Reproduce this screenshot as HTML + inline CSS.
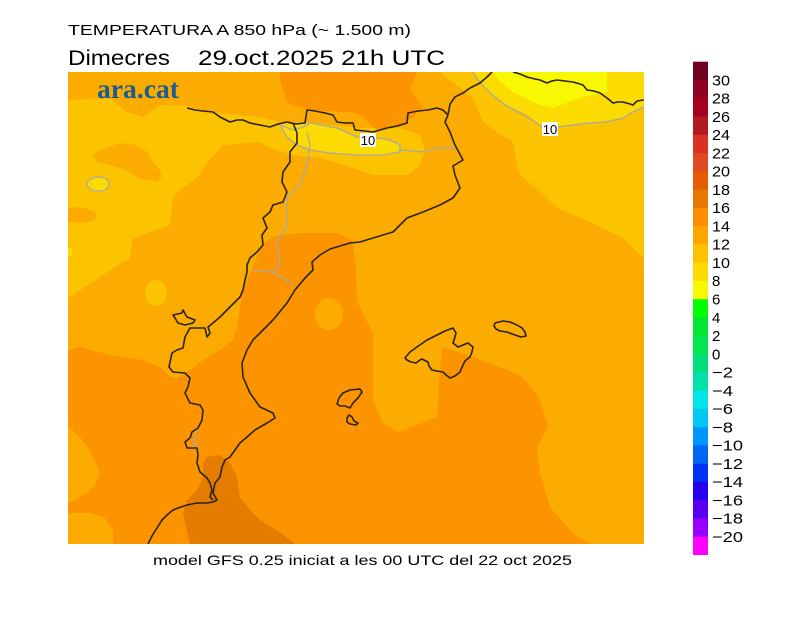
<!DOCTYPE html>
<html><head><meta charset="utf-8"><style>
html,body{margin:0;padding:0;background:#fff;}
svg{display:block;}
text{font-family:"Liberation Sans",sans-serif;}
</style></head><body>
<svg width="800" height="617" viewBox="0 0 800 617" xmlns="http://www.w3.org/2000/svg">
<rect width="800" height="617" fill="#fff"/>
<defs><clipPath id="mc"><rect x="68" y="72" width="576" height="472"/></clipPath></defs>
<g clip-path="url(#mc)">
<rect x="68" y="72" width="576" height="472" fill="#fcac00"/>
<!-- C10 upper-left -->
<polygon fill="#fcc400" points="68,100 110,98 127,112 143,117 160,105 187,106 210,112 240,115 265,118 280,122 320,124 360,128 400,128 420,135 425,150 420,165 407,175 373,175 345,165 320,158 293,155 270,148 260,142 223,145 205,165 200,175 180,190 173,198 170,225 150,232 133,238 130,258 110,270 93,282 68,298"/>
<polygon fill="#fcac00" points="93,155 105,148 120,143 137,145 147,152 153,162 160,170 162,177 157,182 140,179 125,170 110,165 97,162"/>
<polygon fill="#fcac00" points="68,208 80,207 92,210 98,216 92,222 78,223 68,222"/>
<ellipse cx="156" cy="293" rx="11" ry="13" fill="#fcc400"/>
<ellipse cx="98" cy="184" rx="11" ry="7" fill="#fcdc00" stroke="#aaa" stroke-width="1.2"/>
<polygon fill="#fcdc00" points="68,247 72,250 72,255 68,258"/>
<!-- C8 Pyrenees -->
<polygon fill="#fcdc00" points="280,125 293,125 303,123 320,124 337,128 357,136 377,138 390,140 400,145 400,152 383,155 357,155 330,153 310,150 297,145 287,137"/>
<!-- C14 top blob -->
<polygon fill="#fc9400" points="280,72 417,72 410,90 423,107 413,117 403,125 377,130 357,113 310,110 287,103 280,80"/>
<!-- right side -->
<polygon fill="#fcc400" points="440,72 644,72 644,258 637,252 623,238 590,222 557,208 540,192 520,175 517,165 513,142 497,132 483,122 473,98"/>
<polygon fill="#fcdc00" points="473,72 644,72 644,107 633,112 623,118 590,123 557,127 540,125 527,114 505,105 495,97 485,88"/>
<polygon fill="#f8f800" points="493,72 607,72 607,92 580,98 553,108 540,105 513,92 497,78"/>
<!-- C14 big -->
<polygon fill="#fc9400" points="68,350 80,347 110,355 143,360 160,367 172,378 180,377 190,370 203,360 220,350 233,340 238,323 240,307 242,290 247,280 252,270 262,245 275,236 300,233 337,233 352,240 356,265 357,300 365,318 373,333 373,400 383,423 397,432 417,425 437,417 440,367 443,347 473,357 507,370 523,377 540,400 548,427 537,447 540,473 550,507 573,533 590,544 68,544"/>
<ellipse cx="329" cy="314" rx="14" ry="16" fill="#fcac00"/>
<polygon fill="#fcac00" points="68,427 80,437 90,450 100,473 95,485 87,493 75,500 68,503"/>
<polygon fill="#fcac00" points="68,513 90,513 105,518 113,530 113,544 68,544"/>
<polygon fill="#e47c00" points="207,457 220,455 230,463 237,477 240,497 250,510 260,520 280,532 295,544 190,544 183,513 187,500 197,490 203,477 203,463"/>
<!-- gray lines -->
<g fill="none" stroke="#a8a8a8" stroke-width="1.3" stroke-linejoin="round">
<polyline points="473,72 478,80 485,88 495,97 505,105 520,113 535,122 543,128 557,127 573,125 590,123 607,122 623,118 633,112 644,107"/>
<polygon points="280,125 293,130 303,127 310,123 337,128 357,137 377,138 390,140 400,145 400,152 383,155 357,155 330,153 310,150 297,145 287,137"/>
<polyline points="400,150 423,152 437,148 457,148"/>
<polyline points="307,132 310,145 307,165 300,185 287,198 287,225 277,242 280,265 273,272 253,270"/>
<polyline points="273,272 283,278 293,285"/>
<polyline points="198,427 195,437 193,443 198,447"/>
</g>
<!-- coastlines -->
<g fill="none" stroke="#2a2418" stroke-width="1.6" stroke-linejoin="round">
<polyline points="187,108 195,110 203,111 213,112 220,117 230,122 237,120 243,120 250,123 260,125 270,127 278,124 287,122 296,124 305,123 307,110 315,111 325,113 333,115 337,122 345,123 353,123 355,130 365,131 373,132 380,130 387,128 397,126 407,123 408,113 418,111 428,110 437,108 443,110 448,115"/>
<polyline points="448,115 450,104 455,97 463,93 470,88 480,83 487,77 492,72"/>
<polyline points="448,115 445,122 450,132 455,145 463,160 458,163 453,166 455,175 460,188 453,198 440,205 423,212 407,218 400,225 393,232 373,238 360,242 350,243 340,246 330,249 320,255 312,262 313,270 305,278 300,284 295,290 287,303 273,320 263,330 253,340 247,350 242,363 243,377 250,393 260,407 273,413 275,418 267,423 255,430 247,437 240,443 235,450 230,457 225,460 222,467 220,477 215,483 213,493 217,500 213,502 207,503 197,503 187,505 178,508 173,510 167,515 162,520 157,528 152,536 148,544"/>
<polyline points="293,123 297,133 297,143 290,152 290,162 283,172 282,182 287,192 283,202 273,205 270,212 263,218 267,228 262,235 263,245 257,252 250,258 247,265 247,272 245,280 243,290 240,297 230,307 220,317 213,323 208,327 210,333 207,337 205,328 190,328 185,337 183,348 177,350 172,353 169,367 173,372 185,373 190,378 188,387 185,393 190,403 200,405 203,410 202,420 198,428 192,432 190,438 185,442 187,448 197,448 198,455 197,463 200,472 207,478 210,483 212,490 210,497 213,500"/>
<polygon points="173,315 182,313 183,310 187,317 195,320 193,323 185,325 178,323 175,318"/>
<polyline points="513,72 520,74 527,77 535,79 540,80 547,83 552,81 557,80 565,81 573,82 580,84 583,85 587,90 594,91 600,93 607,98 613,103 618,102 623,102 630,104 633,105 637,101 644,100"/>
<polygon points="405,358 410,352 417,347 427,340 437,335 445,331 453,328 456,333 455,337 453,343 458,347 463,345 468,343 473,347 472,352 470,357 465,361 463,365 460,372 455,376 450,378 446,375 443,372 437,371 432,370 429,366 428,362 422,359 420,360 416,363 411,362 407,360"/>
<polygon points="495,323 503,321 510,322 517,325 522,328 525,332 526,336 521,337 515,335 507,332 500,331 496,329 494,326"/>
<polygon points="337,404 339,398 343,393 350,390 360,389 362,392 358,398 353,403 350,408 345,406 340,406"/>
<polygon points="347,418 349,415 352,417 354,421 358,423 356,425 350,424 347,422"/>
</g>
<!-- contour labels -->
<rect x="542" y="122" width="16" height="14" fill="#fff"/>
<text x="550" y="134" font-size="13" text-anchor="middle" fill="#000">10</text>
<rect x="360" y="133" width="16" height="14" fill="#fff"/>
<text x="368" y="145" font-size="13" text-anchor="middle" fill="#000">10</text>
<!-- logo -->
<text x="97" y="98" font-family="Liberation Serif,serif" font-weight="bold" font-size="27" fill="#1d5c8e" textLength="82" lengthAdjust="spacingAndGlyphs" style="font-family:'Liberation Serif',serif">ara.cat</text>
</g>
<!-- titles -->
<text x="68" y="35" font-size="15" fill="#000" textLength="343" lengthAdjust="spacingAndGlyphs">TEMPERATURA A 850 hPa (~ 1.500 m)</text>
<text x="68" y="65" font-size="21" fill="#000" textLength="102" lengthAdjust="spacingAndGlyphs">Dimecres</text>
<text x="198" y="65" font-size="21" fill="#000" textLength="247" lengthAdjust="spacingAndGlyphs">29.oct.2025 21h UTC</text>
<text x="153" y="565" font-size="14" fill="#000" textLength="419" lengthAdjust="spacingAndGlyphs">model GFS 0.25 iniciat a les 00 UTC del 22 oct 2025</text>
<!-- colorbar -->
<g>
<rect x="693" y="61.7" width="15" height="18.6" fill="#6e0020"/>
<rect x="693" y="80" width="15" height="18.6" fill="#900022"/>
<rect x="693" y="98.2" width="15" height="18.6" fill="#a50021"/>
<rect x="693" y="116.5" width="15" height="18.6" fill="#b31a1f"/>
<rect x="693" y="134.8" width="15" height="18.6" fill="#dc3020"/>
<rect x="693" y="153" width="15" height="18.6" fill="#e04a20"/>
<rect x="693" y="171.3" width="15" height="18.6" fill="#e65c00"/>
<rect x="693" y="189.6" width="15" height="18.6" fill="#e67800"/>
<rect x="693" y="207.9" width="15" height="18.6" fill="#ff8c00"/>
<rect x="693" y="226.1" width="15" height="18.6" fill="#ffa500"/>
<rect x="693" y="244.4" width="15" height="18.6" fill="#ffc000"/>
<rect x="693" y="262.7" width="15" height="18.6" fill="#ffd900"/>
<rect x="693" y="280.9" width="15" height="18.6" fill="#f8f800"/>
<rect x="693" y="299.2" width="15" height="18.6" fill="#00ff00"/>
<rect x="693" y="317.5" width="15" height="18.6" fill="#00e632"/>
<rect x="693" y="335.8" width="15" height="18.6" fill="#00e650"/>
<rect x="693" y="354" width="15" height="18.6" fill="#00e07a"/>
<rect x="693" y="372.3" width="15" height="18.6" fill="#00e0a8"/>
<rect x="693" y="390.6" width="15" height="18.6" fill="#00e6e6"/>
<rect x="693" y="408.8" width="15" height="18.6" fill="#00c8f5"/>
<rect x="693" y="427.1" width="15" height="18.6" fill="#0096ff"/>
<rect x="693" y="445.4" width="15" height="18.6" fill="#0064f5"/>
<rect x="693" y="463.7" width="15" height="18.6" fill="#0032f5"/>
<rect x="693" y="481.9" width="15" height="18.6" fill="#2800f0"/>
<rect x="693" y="500.2" width="15" height="18.6" fill="#5a00f0"/>
<rect x="693" y="518.5" width="15" height="18.6" fill="#9600ff"/>
<rect x="693" y="536.7" width="15" height="18.3" fill="#ff00ff"/>
</g>
<g font-size="15" fill="#000">
<text x="712" y="85.3" textLength="18" lengthAdjust="spacingAndGlyphs">30</text>
<text x="712" y="103.5" textLength="18" lengthAdjust="spacingAndGlyphs">28</text>
<text x="712" y="121.8" textLength="18" lengthAdjust="spacingAndGlyphs">26</text>
<text x="712" y="140.1" textLength="18" lengthAdjust="spacingAndGlyphs">24</text>
<text x="712" y="158.4" textLength="18" lengthAdjust="spacingAndGlyphs">22</text>
<text x="712" y="176.6" textLength="18" lengthAdjust="spacingAndGlyphs">20</text>
<text x="712" y="194.9" textLength="18" lengthAdjust="spacingAndGlyphs">18</text>
<text x="712" y="213.2" textLength="18" lengthAdjust="spacingAndGlyphs">16</text>
<text x="712" y="231.4" textLength="18" lengthAdjust="spacingAndGlyphs">14</text>
<text x="712" y="249.7" textLength="18" lengthAdjust="spacingAndGlyphs">12</text>
<text x="712" y="268" textLength="18" lengthAdjust="spacingAndGlyphs">10</text>
<text x="712" y="286.2">8</text>
<text x="712" y="304.5">6</text>
<text x="712" y="322.8">4</text>
<text x="712" y="341.1">2</text>
<text x="712" y="359.3">0</text>
<text x="712" y="377.6" textLength="21" lengthAdjust="spacingAndGlyphs">−2</text>
<text x="712" y="395.9" textLength="21" lengthAdjust="spacingAndGlyphs">−4</text>
<text x="712" y="414.1" textLength="21" lengthAdjust="spacingAndGlyphs">−6</text>
<text x="712" y="432.4" textLength="21" lengthAdjust="spacingAndGlyphs">−8</text>
<text x="712" y="450.7" textLength="31" lengthAdjust="spacingAndGlyphs">−10</text>
<text x="712" y="468.9" textLength="31" lengthAdjust="spacingAndGlyphs">−12</text>
<text x="712" y="487.2" textLength="31" lengthAdjust="spacingAndGlyphs">−14</text>
<text x="712" y="505.5" textLength="31" lengthAdjust="spacingAndGlyphs">−16</text>
<text x="712" y="523.7" textLength="31" lengthAdjust="spacingAndGlyphs">−18</text>
<text x="712" y="542" textLength="31" lengthAdjust="spacingAndGlyphs">−20</text>
</g>
</svg>
</body></html>
